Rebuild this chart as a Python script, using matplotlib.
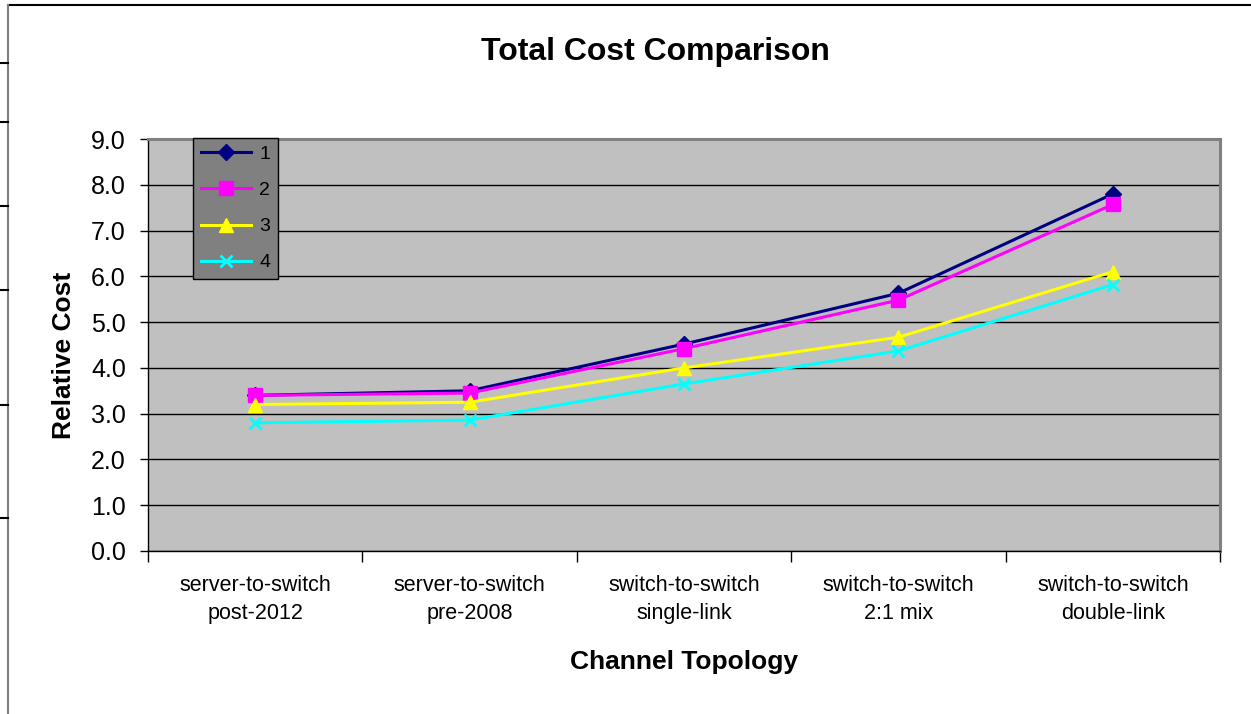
import matplotlib.pyplot as plt
from matplotlib.lines import Line2D

plt.rcParams['font.family'] = ['Liberation Sans', 'DejaVu Sans']

categories = ['server-to-switch\npost-2012', 'server-to-switch\npre-2008',
              'switch-to-switch\nsingle-link', 'switch-to-switch\n2:1 mix',
              'switch-to-switch\ndouble-link']
s1 = [3.40, 3.50, 4.52, 5.63, 7.80]
s2 = [3.40, 3.45, 4.42, 5.48, 7.57]
s3 = [3.20, 3.25, 4.00, 4.67, 6.10]
s4 = [2.80, 2.86, 3.65, 4.37, 5.82]
yticks = [0, 1, 2, 3, 4, 5, 6, 7, 8, 9]

x = list(range(1, len(categories) + 1))
W, H = 1251, 714

fig = plt.figure(figsize=(12.51, 7.14), dpi=100)
ax = fig.add_axes([148 / W, 163 / H, 1072 / W, 412 / H])
ax.set_facecolor('#C0C0C0')

ax.plot(x, s1, color='#000080', lw=2.2, marker='D', ms=8, label='1', zorder=5)
ax.plot(x, s2, color='#FF00FF', lw=2.2, marker='s', ms=10, label='2', zorder=5)
ax.plot(x, s3, color='#FFFF00', lw=2.2, marker='^', ms=10, label='3', zorder=5)
ax.plot(x, s4, color='#00FFFF', lw=2.2, marker='x', ms=9, mew=2, label='4', zorder=5)

ax.set_xlim(0.5, 5.5)
ax.set_ylim(0, 9)
ax.set_yticks(yticks)
ax.set_yticklabels([f'{v:.1f}' for v in yticks])
ax.yaxis.grid(True, color='black', lw=1.0)
ax.set_axisbelow(True)

# category boundary ticks, labels at centres
ax.set_xticks([i + 0.5 for i in range(0, 6)])
ax.set_xticklabels([])
ax.set_xticks(x, minor=True)
labels = ax.set_xticklabels(categories, minor=True, fontsize=15.5)
for t in labels:
    t.set_linespacing(1.45)
ax.tick_params(axis='x', which='major', direction='out', length=8, width=1)
ax.tick_params(axis='x', which='minor', length=0, pad=17)
ax.tick_params(axis='y', direction='out', length=6, width=1, labelsize=18, pad=10)

for side in ['top', 'right']:
    ax.spines[side].set_color('#808080')
    ax.spines[side].set_linewidth(2.2)
for side in ['left', 'bottom']:
    ax.spines[side].set_color('black')
    ax.spines[side].set_linewidth(1)

ax.set_ylabel('Relative Cost', fontsize=19, fontweight='bold', va='center')
ax.yaxis.set_label_coords(-84 / 1072, 0.476)
ax.set_xlabel('Channel Topology', fontsize=19, fontweight='bold', va='center')
ax.xaxis.set_label_coords(0.5, -111 / 412)
fig.suptitle('Total Cost Comparison', fontsize=23, fontweight='bold',
             x=655 / W, y=1 - 52 / H, va='center')

leg = ax.legend(loc='upper left', bbox_to_anchor=(0.042, 1.003), fontsize=14,
                frameon=True, fancybox=False, borderaxespad=0,
                handlelength=2.6, labelspacing=0.95, handletextpad=0.4,
                borderpad=0.4)
leg.get_frame().set_facecolor('#808080')
leg.get_frame().set_edgecolor('black')
leg.get_frame().set_alpha(1)

# frame remnants at the left and top edges
fig.add_artist(Line2D([8 / W, 1], [1 - 5 / H, 1 - 5 / H], color='black', lw=1.5))
fig.add_artist(Line2D([8 / W, 8 / W], [0, 1 - 5 / H], color='#808080', lw=1.5))
for yy in [63, 122, 206, 290, 405, 518]:
    fig.add_artist(Line2D([0, 8 / W], [1 - yy / H, 1 - yy / H], color='black', lw=1.5))

fig.savefig('out.png', dpi=100)
